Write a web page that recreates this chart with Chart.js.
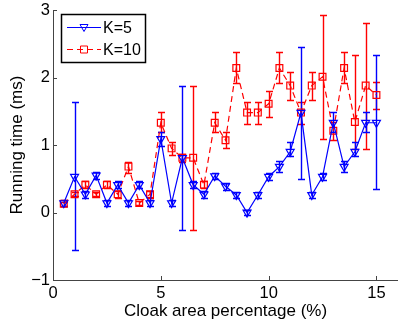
<!DOCTYPE html>
<html>
<head>
<meta charset="utf-8">
<script src="https://cdn.jsdelivr.net/npm/chart.js"></script>
<style>
  html, body { margin: 0; padding: 0; background: #fff; overflow: hidden; }
  canvas { display: block; }
</style>
</head>
<body>
<canvas id="chart" width="398" height="324"></canvas>
<script>
// Данные
const cloakArea = [0.5, 1, 1.5, 2, 2.5, 3, 3.5, 4, 4.5, 5, 5.5, 6, 6.5, 7, 7.5,
                   8, 8.5, 9, 9.5, 10, 10.5, 11, 11.5, 12, 12.5, 13, 13.5, 14, 14.5, 15];

const k5Time = [0.14, 0.53, 0.27, 0.55, 0.14, 0.41, 0.14, 0.41, 0.14, 1.09, 0.14, 0.81, 0.41, 0.27, 0.54,
                0.39, 0.26, 0.00, 0.26, 0.53, 0.68, 0.90, 1.48, 0.26, 0.53, 1.33, 0.68, 0.90, 1.33, 1.33];
const k5Low  = [0.10, -0.56, 0.22, 0.50, 0.10, 0.36, 0.10, 0.36, 0.10, 0.98, 0.10, -0.26, 0.36, 0.22, 0.49,
                0.34, 0.22, -0.03, 0.22, 0.48, 0.60, 0.84, 0.50, 0.22, 0.48, 1.20, 0.60, 0.84, 1.19, 0.35];
const k5High = [0.18, 1.63, 0.32, 0.60, 0.18, 0.46, 0.18, 0.46, 0.18, 1.20, 0.18, 1.87, 0.46, 0.32, 0.59,
                0.44, 0.30, 0.03, 0.31, 0.59, 0.76, 1.04, 2.45, 0.31, 0.59, 1.49, 0.76, 1.04, 1.49, 2.34];

const k10Time = [0.13, 0.27, 0.41, 0.27, 0.41, 0.27, 0.68, 0.14, 0.27, 1.33, 0.95, 0.81, 0.81, 0.41, 1.33,
                 1.07, 2.14, 1.48, 1.48, 1.61, 2.14, 1.88, 1.48, 1.88, 2.01, 1.21, 2.14, 1.34, 1.88, 1.74];
const k10Low  = [0.10, 0.24, 0.36, 0.24, 0.36, 0.22, 0.59, 0.11, 0.22, 1.19, 0.85, 0.75, -0.26, 0.36, 1.19,
                 0.95, 1.92, 1.31, 1.31, 1.42, 1.92, 1.67, 1.31, 1.67, 1.09, 1.07, 1.92, 0.94, 0.94, 1.54];
const k10High = [0.16, 0.30, 0.46, 0.30, 0.46, 0.32, 0.75, 0.17, 0.32, 1.49, 1.05, 0.87, 1.87, 0.46, 1.49,
                 1.19, 2.38, 1.64, 1.64, 1.80, 2.38, 2.08, 1.64, 2.08, 2.93, 1.34, 2.38, 2.34, 2.81, 1.93];

const xTicks = [0, 5, 10, 15];
const yTicks = [-1, 0, 1, 2, 3];

const FONT = '"Liberation Sans", Arial, sans-serif';
const BLUE = '#0000ff';
const RED = '#ff0000';

function toPoints(ys) {
    return cloakArea.map((x, i) => ({ x: x, y: ys[i] }));
}

// Планки погрешностей по шкалам графика
const errorBars = {
    id: 'errorBars',
    beforeDatasetsDraw(chart) {
        const ctx = chart.ctx;
        const xs = chart.scales.x, ys = chart.scales.y;
        const sets = [
            { low: k10Low, high: k10High, color: RED },
            { low: k5Low, high: k5High, color: BLUE }
        ];
        ctx.save();
        ctx.lineWidth = 1.4;
        sets.forEach(s => {
            ctx.strokeStyle = s.color;
            cloakArea.forEach((x, i) => {
                const px = Math.round(xs.getPixelForValue(x)) + 0.5;
                const y1 = Math.round(ys.getPixelForValue(s.low[i])) + 0.5;
                const y2 = Math.round(ys.getPixelForValue(s.high[i])) + 0.5;
                ctx.beginPath();
                ctx.moveTo(px, y1); ctx.lineTo(px, y2);
                ctx.moveTo(px - 3.5, y1); ctx.lineTo(px + 3.5, y1);
                ctx.moveTo(px - 3.5, y2); ctx.lineTo(px + 3.5, y2);
                ctx.stroke();
            });
        });
        ctx.restore();
    }
};

// Засечки внутрь и легенда в стиле MATLAB
const axesDecor = {
    id: 'axesDecor',
    afterDraw(chart) {
        const ctx = chart.ctx;
        const a = chart.chartArea;
        const xs = chart.scales.x, ys = chart.scales.y;
        ctx.save();
        ctx.fillStyle = '#444';
        xTicks.forEach(v => {
            const px = Math.round(xs.getPixelForValue(v));
            ctx.fillRect(px, a.bottom - 4, 1, 4);
        });
        yTicks.forEach(v => {
            const py = Math.round(ys.getPixelForValue(v));
            ctx.fillRect(a.left, py, 4, 1);
        });

        // легенда
        const bx = 61.5, by = 14.5, bw = 84, bh = 48;
        ctx.fillStyle = '#fff';
        ctx.fillRect(bx, by, bw, bh);
        ctx.strokeStyle = '#000';
        ctx.lineWidth = 1.5;
        ctx.strokeRect(bx, by, bw, bh);

        const items = chart.data.datasets;
        const rows = [27.5, 49.5];
        items.forEach((ds, i) => {
            const y = rows[i];
            ctx.strokeStyle = ds.borderColor;
            ctx.lineWidth = 1;
            ctx.setLineDash(ds.borderDash || []);
            ctx.beginPath();
            ctx.moveTo(67, y); ctx.lineTo(101, y);
            ctx.stroke();
            ctx.setLineDash([]);
            ctx.beginPath();
            if (ds.pointStyle === 'triangle') {
                ctx.moveTo(80, y - 3); ctx.lineTo(88, y - 3); ctx.lineTo(84, y + 4); ctx.closePath();
            } else {
                ctx.rect(80.5, y - 3.5, 7, 7);
            }
            ctx.stroke();
            ctx.fillStyle = '#000';
            ctx.font = '16px ' + FONT;
            ctx.textBaseline = 'middle';
            ctx.textAlign = 'left';
            ctx.fillText(ds.label, 103, y + 1);
        });
        ctx.restore();
    }
};

new Chart(document.getElementById('chart'), {
    type: 'line',
    data: {
        datasets: [
            {
                label: 'K=5',
                data: toPoints(k5Time),
                borderColor: BLUE,
                borderWidth: 1.2,
                pointStyle: 'triangle',
                rotation: 180,
                pointRadius: 4.6,
                pointBorderWidth: 1.2,
                pointBackgroundColor: 'rgba(0,0,0,0)',
                pointBorderColor: BLUE,
                tension: 0,
                fill: false
            },
            {
                label: 'K=10',
                data: toPoints(k10Time),
                borderColor: RED,
                borderWidth: 1.2,
                borderDash: [6, 4],
                pointStyle: 'rect',
                pointRadius: 4.8,
                pointBorderWidth: 1.2,
                pointBackgroundColor: 'rgba(0,0,0,0)',
                pointBorderColor: RED,
                tension: 0,
                fill: false
            }
        ]
    },
    options: {
        responsive: false,
        animation: false,
        layout: { autoPadding: false, padding: { top: 10, right: -3, left: 0, bottom: 0 } },
        plugins: {
            legend: { display: false },
            tooltip: { enabled: false }
        },
        scales: {
            x: {
                type: 'linear',
                min: 0,
                max: 16,
                afterBuildTicks: s => { s.ticks = xTicks.map(v => ({ value: v })); },
                afterFit: s => { s.height = 44; s.paddingLeft = 0; s.paddingRight = 0; },
                grid: { display: true, drawOnChartArea: false, drawTicks: false },
                border: { display: true, color: '#444', width: 1 },
                ticks: { color: '#000', padding: 4, font: { family: FONT, size: 16.5 } },
                title: {
                    display: true,
                    text: 'Cloak area percentage (%)',
                    color: '#000',
                    font: { family: FONT, size: 17 },
                    padding: { top: 0, bottom: 2 }
                }
            },
            y: {
                min: -1,
                max: 3,
                afterBuildTicks: s => { s.ticks = yTicks.map(v => ({ value: v })); },
                afterFit: s => { s.width = 53; s.paddingTop = 0; s.paddingBottom = 0; },
                grid: { display: true, drawOnChartArea: false, drawTicks: false },
                border: { display: true, color: '#444', width: 1 },
                ticks: {
                    color: '#000',
                    padding: 3,
                    font: { family: FONT, size: 16.5 },
                    callback: v => (v < 0 ? '\u2212' + Math.abs(v) : String(v))
                },
                title: {
                    display: true,
                    text: 'Running time (ms)',
                    color: '#000',
                    font: { family: FONT, size: 17 },
                    padding: { top: 7, bottom: 0 }
                }
            }
        }
    },
    plugins: [errorBars, axesDecor]
});
</script>
</body>
</html>
